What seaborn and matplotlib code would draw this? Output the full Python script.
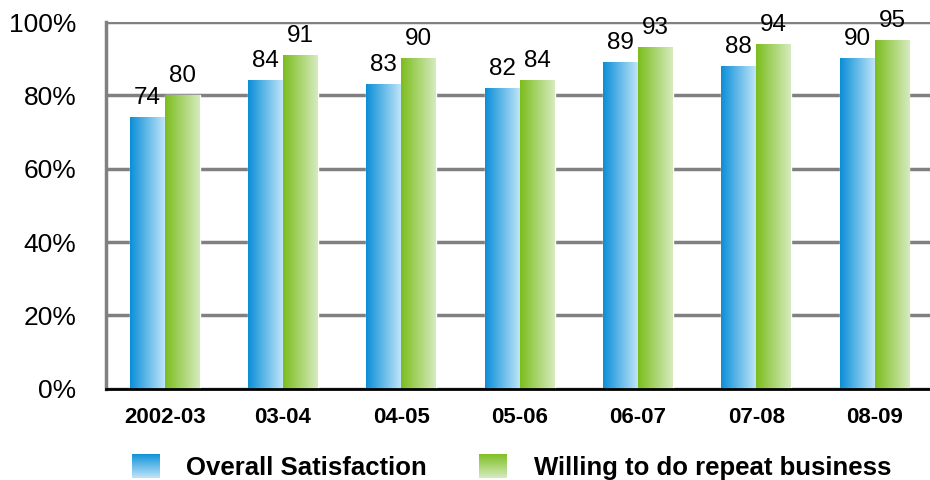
import numpy as np
import pandas as pd
import matplotlib
matplotlib.use('Agg')
import matplotlib.pyplot as plt
import seaborn as sns
from matplotlib.colors import LinearSegmentedColormap
from matplotlib.patches import Patch

periods = ['2002-03', '03-04', '04-05', '05-06', '06-07', '07-08', '08-09']
overall = [74, 84, 83, 82, 89, 88, 90]
repeat = [80, 91, 90, 84, 93, 94, 95]
series = ['Overall Satisfaction', 'Willing to do repeat business']

df = pd.DataFrame({
    'period': periods * 2,
    'value': overall + repeat,
    'series': [series[0]] * len(periods) + [series[1]] * len(periods),
})

blue_cmap = LinearSegmentedColormap.from_list('blue', ['#0b8ed8', '#bfe5f9'])
green_cmap = LinearSegmentedColormap.from_list('green', ['#7cbd1d', '#d6ebbf'])
cmaps = {series[0]: blue_cmap, series[1]: green_cmap}

sns.set_style('white', rc={'text.color': 'black', 'xtick.color': 'black',
                           'ytick.color': 'black'})
fig = plt.figure(figsize=(9.3, 4.8), dpi=100)
ax = fig.add_axes([0.1135, 0.19, 0.8905, 0.764])

sns.barplot(data=df, x='period', y='value', hue='series', hue_order=series,
            palette=['#5ab8ea', '#a8d46e'], width=0.59, gap=0, ax=ax,
            legend=False, saturation=1, zorder=2)

# gradient fill on each bar
gradient = np.linspace(0, 1, 256).reshape(1, -1)
for container, name in zip(ax.containers, series):
    for bar, val in zip(container, container.datavalues):
        x0, y0 = bar.get_x(), bar.get_y()
        w, h = bar.get_width(), bar.get_height()
        ax.imshow(gradient, cmap=cmaps[name], aspect='auto',
                  extent=[x0, x0 + w, y0, y0 + h], zorder=3)
        ax.annotate(f'{val:.0f}', (x0 + w / 2, val), xytext=(0, 6),
                    textcoords='offset points', ha='center', va='bottom',
                    fontsize=17.5, family='Liberation Sans', color='black',
                    zorder=4)

ax.set_xlim(-0.5, len(periods) - 0.5)
ax.set_ylim(0, 100)
ax.set_yticks(range(0, 101, 20))
ax.set_yticklabels([f'{v}%' for v in range(0, 101, 20)],
                   fontsize=19, family='Liberation Sans')
ax.yaxis.grid(True, color='#808080', linewidth=2.5, zorder=0)
ax.set_axisbelow(True)
ax.tick_params(axis='y', length=8, width=2.5, color='#808080', pad=13,
               labelcolor='black')

ax.set_xticks(np.arange(-0.5, len(periods), 1))
ax.set_xticklabels([''] * (len(periods) + 1))
ax.set_xticks(range(len(periods)), minor=True)
ax.set_xticklabels(periods, minor=True, fontsize=16, fontweight='bold',
                   family='Liberation Sans')
ax.tick_params(axis='x', which='major', length=6, width=2, color='black',
               direction='out')
ax.tick_params(axis='x', which='minor', length=0, pad=13, labelcolor='black')
ax.set_xlabel('')
ax.set_ylabel('')

for side in ['top', 'right']:
    ax.spines[side].set_visible(False)
ax.spines['left'].set_color('#808080')
ax.spines['left'].set_linewidth(2.5)
ax.spines['bottom'].set_color('black')
ax.spines['bottom'].set_linewidth(2)
ax.spines['bottom'].set_zorder(5)

handles = [Patch(facecolor='none', edgecolor='none', label=s) for s in series]
leg = fig.legend(handles=handles, loc='lower left', bbox_to_anchor=(132 / 930, 0.0),
                 ncol=2, frameon=False, borderpad=0, borderaxespad=0,
                 handlelength=1.08, handleheight=1.08,
                 handletextpad=1.04, columnspacing=2.02,
                 prop={'family': 'Liberation Sans', 'weight': 'bold', 'size': 18.5})

# put vertical gradient squares where the legend handles are
fig.canvas.draw()
vgrad = np.linspace(0, 1, 256).reshape(-1, 1)
inv = fig.transFigure.inverted()
for patch, name in zip(leg.get_patches(), series):
    ext = patch.get_window_extent()
    (fx0, fy0), (fx1, fy1) = inv.transform([[ext.x0, ext.y0], [ext.x1, ext.y1]])
    sq = fig.add_axes([fx0, fy0, fx1 - fx0, fy1 - fy0])
    sq.imshow(vgrad, cmap=cmaps[name], aspect='auto')
    sq.set_axis_off()

fig.savefig('out.png', dpi=100)
